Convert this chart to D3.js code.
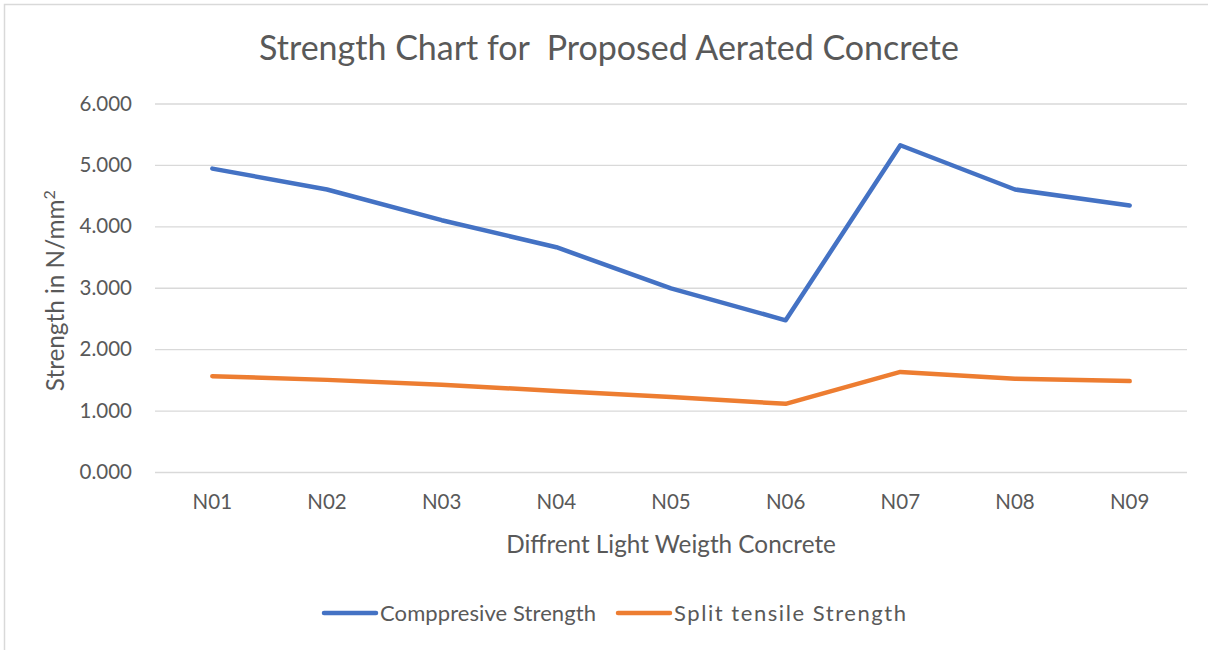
<!DOCTYPE html>
<html>
<head>
<meta charset="utf-8">
<script src="https://cdn.jsdelivr.net/npm/d3@7"></script>
<style>
  html, body { margin: 0; padding: 0; background: #fff; }
  svg { display: block; font-family: "Lato", "Open Sans", sans-serif; }
</style>
</head>
<body>
<svg id="chart" width="1208" height="650"></svg>
<script>
// Mix designs along the x axis
const categories = ["N01", "N02", "N03", "N04", "N05", "N06", "N07", "N08", "N09"];
// Strength values in N/mm²
const compressive = [4.94, 4.60, 4.10, 3.66, 2.99, 2.47, 5.32, 4.60, 4.34];
const splitTensile = [1.56, 1.50, 1.42, 1.32, 1.22, 1.11, 1.63, 1.52, 1.48];
const yTicks = [0, 1, 2, 3, 4, 5, 6];

const series = [
  { name: "Comppresive Strength", values: compressive, color: "#4472C4" },
  { name: "Split tensile Strength", values: splitTensile, color: "#ED7D31" }
];

const svg = d3.select("#chart");
const W = 1208, H = 650;
const margin = { left: 155, right: 21, top: 103.5, bottom: 178 };
const plotW = W - margin.left - margin.right;
const plotH = H - margin.top - margin.bottom;
const textColor = "#595959";
const font = "Lato, 'Open Sans', sans-serif";

// Outer frame
svg.append("rect")
  .attr("x", 4.5).attr("y", 4.5)
  .attr("width", W + 10).attr("height", H + 10)
  .attr("fill", "none").attr("stroke", "#D9D9D9").attr("stroke-width", 1.5);

const x = d3.scaleBand().domain(categories).range([0, plotW]);
const y = d3.scaleLinear().domain([0, 6]).range([plotH, 0]);

const g = svg.append("g").attr("transform", `translate(${margin.left},${margin.top})`);

// Horizontal gridlines with value labels
const yAxis = d3.axisLeft(y).tickValues(yTicks).tickSize(-plotW).tickPadding(23)
  .tickFormat(d3.format(".3f"));
g.append("g").call(yAxis)
  .call(a => a.select(".domain").remove())
  .call(a => a.selectAll("line").attr("stroke", "#D9D9D9").attr("stroke-width", 1.3))
  .call(a => a.selectAll("text").attr("fill", textColor).attr("font-size", 20.5)
    .attr("font-family", font));

// Category labels
const xAxis = d3.axisBottom(x).tickSize(0).tickPadding(22);
g.append("g").attr("transform", `translate(0,${plotH})`).call(xAxis)
  .call(a => a.select(".domain").remove())
  .call(a => a.selectAll("text").attr("fill", textColor).attr("font-size", 20.5)
    .attr("font-family", font));

// Series lines
const line = d3.line()
  .x((d, i) => x(categories[i]) + x.bandwidth() / 2)
  .y(d => y(d));

g.selectAll(".series").data(series).join("path")
  .attr("class", "series")
  .attr("d", d => line(d.values))
  .attr("fill", "none")
  .attr("stroke", d => d.color)
  .attr("stroke-width", 4.5)
  .attr("stroke-linecap", "round")
  .attr("stroke-linejoin", "round");

// Chart title
svg.append("text")
  .attr("x", 609).attr("y", 60)
  .attr("text-anchor", "middle")
  .attr("fill", textColor).attr("font-size", 34)
  .attr("xml:space", "preserve")
  .text("Strength Chart for  Proposed Aerated Concrete");

// Axis titles
svg.append("text")
  .attr("x", margin.left + plotW / 2).attr("y", 553)
  .attr("text-anchor", "middle")
  .attr("fill", textColor).attr("font-size", 24.3)
  .text("Diffrent Light Weigth Concrete");

const yTitle = svg.append("text")
  .attr("transform", `translate(64,${margin.top + plotH / 2 + 3}) rotate(-90)`)
  .attr("text-anchor", "middle")
  .attr("fill", textColor).attr("font-size", 24.3);
yTitle.append("tspan").text("Strength in N/mm");
yTitle.append("tspan").attr("dy", -9).attr("font-size", 16).text("2");

// Legend
const legendItems = [
  { s: series[0], x: 322, len: 216 },
  { s: series[1], x: 616, len: 232 }
];
const lg = svg.append("g").attr("transform", "translate(0,613)");
legendItems.forEach(item => {
  lg.append("line")
    .attr("x1", item.x + 2).attr("x2", item.x + 54)
    .attr("y1", 0).attr("y2", 0)
    .attr("stroke", item.s.color).attr("stroke-width", 4.5)
    .attr("stroke-linecap", "round");
  lg.append("text")
    .attr("x", item.x + 58).attr("y", 8)
    .attr("fill", textColor).attr("font-size", 22)
    .attr("textLength", item.len).attr("lengthAdjust", "spacing")
    .text(item.s.name);
});
</script>
</body>
</html>
